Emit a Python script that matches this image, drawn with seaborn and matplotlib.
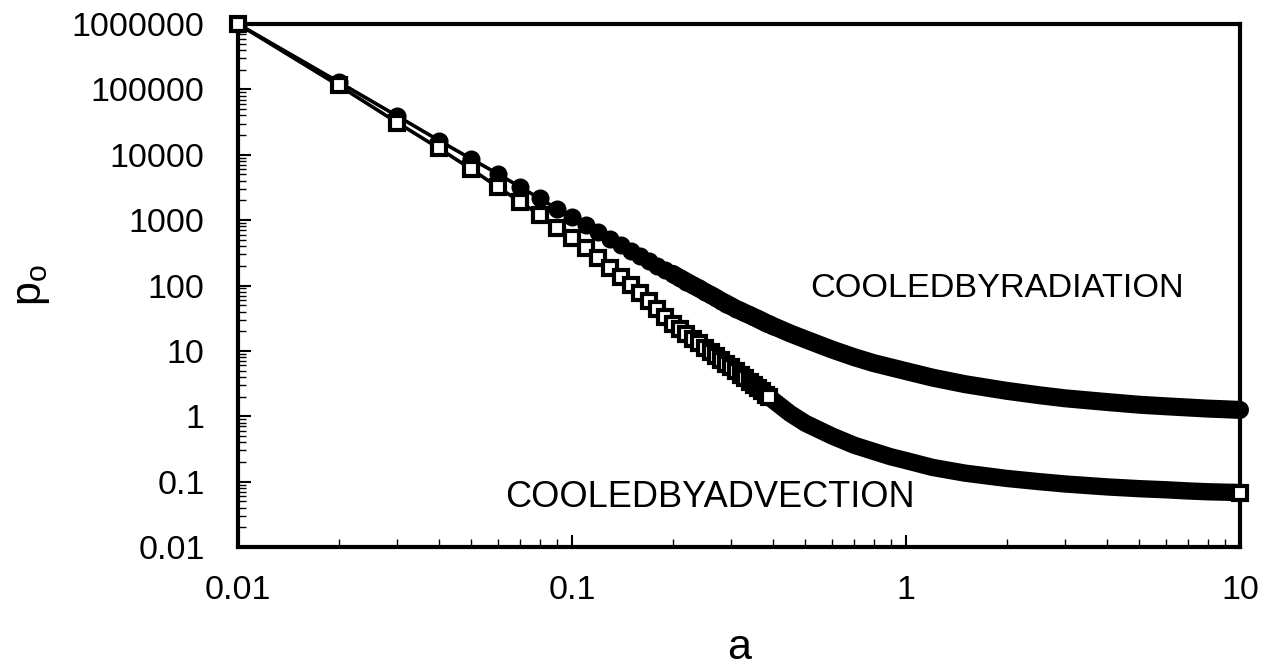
import numpy as np
import pandas as pd
import matplotlib
matplotlib.use("Agg")
import matplotlib.pyplot as plt
import seaborn as sns
from matplotlib.ticker import LogLocator, FixedLocator, FixedFormatter, NullFormatter

# ---- data ----
a_fine = [0.01, 0.02, 0.03, 0.04, 0.05, 0.06, 0.07, 0.08, 0.09, 0.10,
          0.11, 0.12, 0.13, 0.14, 0.15, 0.16, 0.17, 0.18, 0.19, 0.20,
          0.21, 0.22, 0.23, 0.24, 0.25, 0.26, 0.27, 0.28, 0.29, 0.30,
          0.31, 0.32, 0.33, 0.34, 0.35, 0.36, 0.37, 0.38, 0.39, 0.40]
radiation_fine = [1.0e6, 1.3e5, 3.9e4, 1.65e4, 8.6e3, 5.1e3, 3.2e3, 2.15e3, 1.5e3, 1.1e3,
                  840, 650, 515, 415, 340, 283, 238, 202, 174, 151,
                  131, 115, 101, 90, 80, 72, 65, 58, 53, 48,
                  44, 41, 38, 35.5, 33, 31, 29, 27, 25.5, 24]
advection_fine = [1.0e6, 1.15e5, 3.1e4, 1.25e4, 6.0e3, 3.2e3, 1.9e3, 1.2e3, 770, 535,
                  375, 265, 188, 136, 101, 77, 58, 43, 33, 26,
                  21.7, 18.2, 15.4, 13.1, 11.2, 9.7, 8.4, 7.3, 6.4, 5.6,
                  4.9, 4.3, 3.8, 3.4, 3.0, 2.7, 2.4, 2.15, 1.95, 1.76]
a_coarse = [0.45, 0.5, 0.6, 0.7, 0.8, 0.9, 1.0, 1.2, 1.5, 2.0, 2.5, 3.0,
            4.0, 5.0, 6.0, 7.0, 8.0, 9.0, 10.0]
radiation_coarse = [18.5, 15, 10.5, 8.0, 6.5, 5.6, 4.9, 3.9, 3.1, 2.45, 2.1, 1.88,
                    1.65, 1.5, 1.42, 1.36, 1.31, 1.28, 1.25]
advection_coarse = [1.1, 0.78, 0.5, 0.36, 0.29, 0.24, 0.21, 0.165, 0.135, 0.112, 0.1, 0.092,
                    0.083, 0.078, 0.075, 0.072, 0.07, 0.069, 0.068]

x_ticks = [0.01, 0.1, 1, 10]
x_tick_labels = ["0.01", "0.1", "1", "10"]
y_ticks = [0.01, 0.1, 1, 10, 100, 1000, 10000, 100000, 1000000]
y_tick_labels = ["0.01", "0.1", "1", "10", "100", "1000", "10000", "100000", "1000000"]
label_radiation = "COOLEDBYRADIATION"
label_advection = "COOLEDBYADVECTION"

df_rad = pd.DataFrame({"a": a_fine + a_coarse, "p": radiation_fine + radiation_coarse})
df_adv = pd.DataFrame({"a": a_fine + a_coarse, "p": advection_fine + advection_coarse})

sns.set_theme(style="white")
plt.rcParams["font.family"] = ["Liberation Sans", "DejaVu Sans"]
plt.rcParams["mathtext.fontset"] = "custom"
plt.rcParams["mathtext.rm"] = "Liberation Sans"
plt.rcParams["mathtext.it"] = "Liberation Sans"
plt.rcParams["text.color"] = "black"
plt.rcParams["axes.labelcolor"] = "black"

fig = plt.figure(figsize=(12.75, 6.67), dpi=100)
ax = fig.add_axes([238 / 1275, 1 - 547 / 667, 1002 / 1275, 523 / 667])

n_fine = len(a_fine)
common = dict(estimator=None, sort=False, color="black", clip_on=False, legend=False)
sq = dict(marker="s", markersize=10.3, markeredgewidth=3.0,
          markerfacecolor="white", markeredgecolor="black")

# radiation: thin line + filled circles, then dense band
sns.lineplot(data=df_rad, x="a", y="p", ax=ax, lw=2.6, marker="o", markersize=13,
             markeredgewidth=0, markerfacecolor="black",
             markevery=list(range(n_fine)), zorder=2, **common)
sns.lineplot(data=df_rad[df_rad["a"] >= 0.2], x="a", y="p", ax=ax, lw=13,
             solid_capstyle="round", zorder=2.5, **common)

# advection: dense band (under the last squares), thin line + open squares
sns.lineplot(data=df_adv[df_adv["a"] >= 0.36], x="a", y="p", ax=ax, lw=12.5,
             solid_capstyle="butt", zorder=2.8, **common)
sns.lineplot(data=df_adv, x="a", y="p", ax=ax, lw=2.6, **sq,
             markevery=list(range(n_fine - 1)), zorder=3, **common)
# last point marker
sns.lineplot(data=df_adv.tail(1), x="a", y="p", ax=ax, lw=0, **sq,
             zorder=4, **common)

ax.set_xscale("log")
ax.set_yscale("log")
ax.set_xlim(0.01, 10)
ax.set_ylim(0.01, 1e6)

ax.xaxis.set_major_locator(FixedLocator(x_ticks))
ax.xaxis.set_major_formatter(FixedFormatter(x_tick_labels))
ax.yaxis.set_major_locator(FixedLocator(y_ticks))
ax.yaxis.set_major_formatter(FixedFormatter(y_tick_labels))
ax.xaxis.set_minor_locator(LogLocator(base=10, subs=np.arange(2, 10), numticks=100))
ax.yaxis.set_minor_locator(LogLocator(base=10, subs=np.arange(2, 10), numticks=100))
ax.xaxis.set_minor_formatter(NullFormatter())
ax.yaxis.set_minor_formatter(NullFormatter())

ax.tick_params(which="major", direction="in", length=9, width=1.5, colors="black",
               labelsize=24.5, top=False, right=False, bottom=True, left=True)
ax.tick_params(which="minor", direction="in", length=5.5, width=1, colors="black",
               top=False, right=False, bottom=True, left=True)
ax.tick_params(axis="x", which="major", pad=20)
ax.tick_params(axis="y", which="major", pad=24)

for s in ax.spines.values():
    s.set_visible(True)
    s.set_color("black")
    s.set_linewidth(3)
    s.set_zorder(1)

ax.set_xlabel("a", fontsize=31, labelpad=16, color="black")
ax.set_ylabel(r"$\mathregular{p_o}$", fontsize=31, labelpad=14, color="black")

ax.text(0.571, 0.495, label_radiation, transform=ax.transAxes, fontsize=24.7,
        ha="left", va="center", color="black")
ax.text(0.2665, 0.0956, label_advection, transform=ax.transAxes, fontsize=26,
        ha="left", va="center", color="black")

fig.savefig("out.png", dpi=100, facecolor="white")
